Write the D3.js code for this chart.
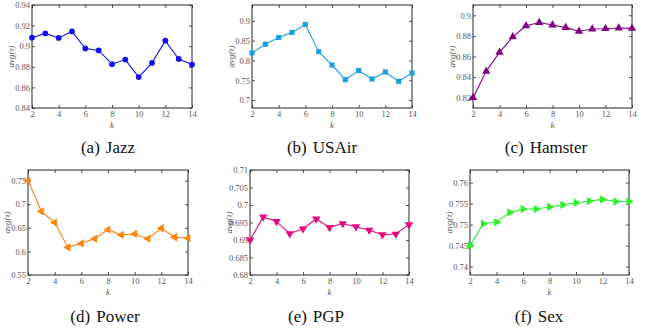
<!DOCTYPE html>
<html>
<head>
<meta charset="utf-8">
<script src="https://cdn.jsdelivr.net/npm/d3@7"></script>
<style>
  body { margin: 0; background: #fff; }
  svg { display: block; }
</style>
</head>
<body>
<div id="chart"></div>
<script>
// k values shared by all panels
const ks = [2, 3, 4, 5, 6, 7, 8, 9, 10, 11, 12, 13, 14];
const xTicks = [2, 4, 6, 8, 10, 12, 14];

// avg(tau)
const jazz    = [0.9083, 0.9124, 0.908, 0.9143, 0.8978, 0.8959, 0.8825, 0.887, 0.870, 0.8838, 0.9054, 0.8876, 0.8822];
const usair   = [0.819, 0.841, 0.858, 0.8708, 0.891, 0.822, 0.7885, 0.7515, 0.7745, 0.753, 0.771, 0.7473, 0.768];
const hamster = [0.820, 0.8457, 0.864, 0.879, 0.8898, 0.893, 0.8905, 0.888, 0.8845, 0.8867, 0.887, 0.8876, 0.8873];
const power   = [0.750, 0.685, 0.661, 0.6085, 0.617, 0.627, 0.646, 0.635, 0.637, 0.627, 0.649, 0.630, 0.628];
const pgp     = [0.690, 0.6966, 0.6953, 0.6918, 0.6932, 0.696, 0.6936, 0.6947, 0.6938, 0.6928, 0.6915, 0.6917, 0.6944];
const sex     = [0.745, 0.7502, 0.7506, 0.7529, 0.7537, 0.7537, 0.7542, 0.7547, 0.7552, 0.7556, 0.756, 0.7555, 0.7555];

const names   = ["(a)", "(b)", "(c)", "(d)", "(e)", "(f)"];
const titles  = ["Jazz", "USAir", "Hamster", "Power", "PGP", "Sex"];
const yDomains = [[0.84, 0.94], [0.68, 0.94], [0.81, 0.91], [0.55, 0.7725], [0.68, 0.71], [0.738, 0.763]];
const yTicks = [
  [0.84, 0.86, 0.88, 0.9, 0.92, 0.94],
  [0.7, 0.75, 0.8, 0.85, 0.9],
  [0.82, 0.84, 0.86, 0.88, 0.9],
  [0.55, 0.6, 0.65, 0.7, 0.75],
  [0.68, 0.685, 0.69, 0.695, 0.7, 0.705, 0.71],
  [0.74, 0.745, 0.75, 0.755, 0.76]
];
const series = [jazz, usair, hamster, power, pgp, sex];

// layout: frame boxes per panel [left, top, right, bottom]
const boxes = [
  [32, 5, 192, 108], [252, 5, 412, 108], [473, 5, 632, 108],
  [28, 170, 188, 275], [250, 170, 409, 275], [470, 170, 629, 275]
];
const colors = ["#1010f0", "#1a9fe3", "#800080", "#ff8410", "#e5077f", "#2af02a"];
const shapes = [d3.symbolCircle, d3.symbolSquare, d3.symbolTriangle, d3.symbolTriangle, d3.symbolTriangle, d3.symbolTriangle];
const rotations = [0, 0, 0, -90, 180, 90];
const capX = [108, 322, 546, 105, 316, 539];
const capY = [153, 153, 153, 322, 322, 322];

const serif = "'Liberation Serif', 'Times New Roman', 'DejaVu Serif', serif";

const svg = d3.select("#chart").append("svg")
  .attr("width", 651)
  .attr("height", 333);

const axisColor = "#262626";
const labelColor = "#555";

series.forEach((vals, i) => {
  const [l, t, r, b] = boxes[i];
  const x = d3.scaleLinear().domain([2, 14]).range([l, r]);
  const y = d3.scaleLinear().domain(yDomains[i]).range([b, t]);
  const g = svg.append("g");

  // box with inward ticks on all four sides
  const tickLen = 3;
  g.append("g").attr("transform", `translate(0,${b})`)
    .call(d3.axisBottom(x).tickValues(xTicks).tickSize(-tickLen).tickPadding(3).tickFormat(d3.format("d")))
    .call(a => a.select(".domain").remove());
  g.append("g").attr("transform", `translate(0,${t})`)
    .call(d3.axisTop(x).tickValues(xTicks).tickSize(-tickLen).tickFormat(""))
    .call(a => a.select(".domain").remove());
  g.append("g").attr("transform", `translate(${l},0)`)
    .call(d3.axisLeft(y).tickValues(yTicks[i]).tickSize(-tickLen).tickPadding(2).tickFormat(d => String(+d.toFixed(3))))
    .call(a => a.select(".domain").remove());
  g.append("g").attr("transform", `translate(${r},0)`)
    .call(d3.axisRight(y).tickValues(yTicks[i]).tickSize(-tickLen).tickFormat(""))
    .call(a => a.select(".domain").remove());

  g.selectAll(".tick line").attr("stroke", axisColor).attr("stroke-width", 0.8);
  g.selectAll(".tick text")
    .attr("fill", labelColor)
    .style("font-family", serif)
    .style("font-size", "8.5px");

  g.append("rect")
    .attr("x", l).attr("y", t)
    .attr("width", r - l).attr("height", b - t)
    .attr("fill", "none")
    .attr("stroke", axisColor)
    .attr("stroke-width", 1);

  // axis labels
  g.append("text")
    .attr("x", (l + r) / 2).attr("y", b + 20)
    .attr("text-anchor", "middle")
    .style("font-family", serif)
    .style("font-style", "italic")
    .style("font-size", "9px")
    .attr("fill", labelColor)
    .text("k");

  g.append("text")
    .attr("transform", `translate(${l - 18},${(t + b) / 2}) rotate(-90)`)
    .attr("text-anchor", "middle")
    .style("font-family", serif)
    .style("font-style", "italic")
    .style("font-size", "9px")
    .attr("fill", labelColor)
    .text("avg(τ)");

  // line + markers
  const line = d3.line().x((d, j) => x(ks[j])).y(d => y(d));
  g.append("path")
    .datum(vals)
    .attr("d", line)
    .attr("fill", "none")
    .attr("stroke", colors[i])
    .attr("stroke-width", 1.1);

  const sym = d3.symbol().type(shapes[i]).size(i < 2 ? 26 : 30);
  g.selectAll(".mark")
    .data(vals)
    .enter().append("path")
    .attr("class", "mark")
    .attr("d", sym)
    .attr("transform", (d, j) => `translate(${x(ks[j])},${y(d)}) rotate(${rotations[i]})`)
    .attr("fill", colors[i]);

  // caption
  const cap = svg.append("text")
    .attr("x", capX[i]).attr("y", capY[i])
    .attr("text-anchor", "middle")
    .style("font-family", serif)
    .style("font-size", "17px")
    .attr("fill", "#111");
  cap.append("tspan").text(names[i]);
  cap.append("tspan").attr("dx", 6).text(titles[i]);
});
</script>
</body>
</html>
